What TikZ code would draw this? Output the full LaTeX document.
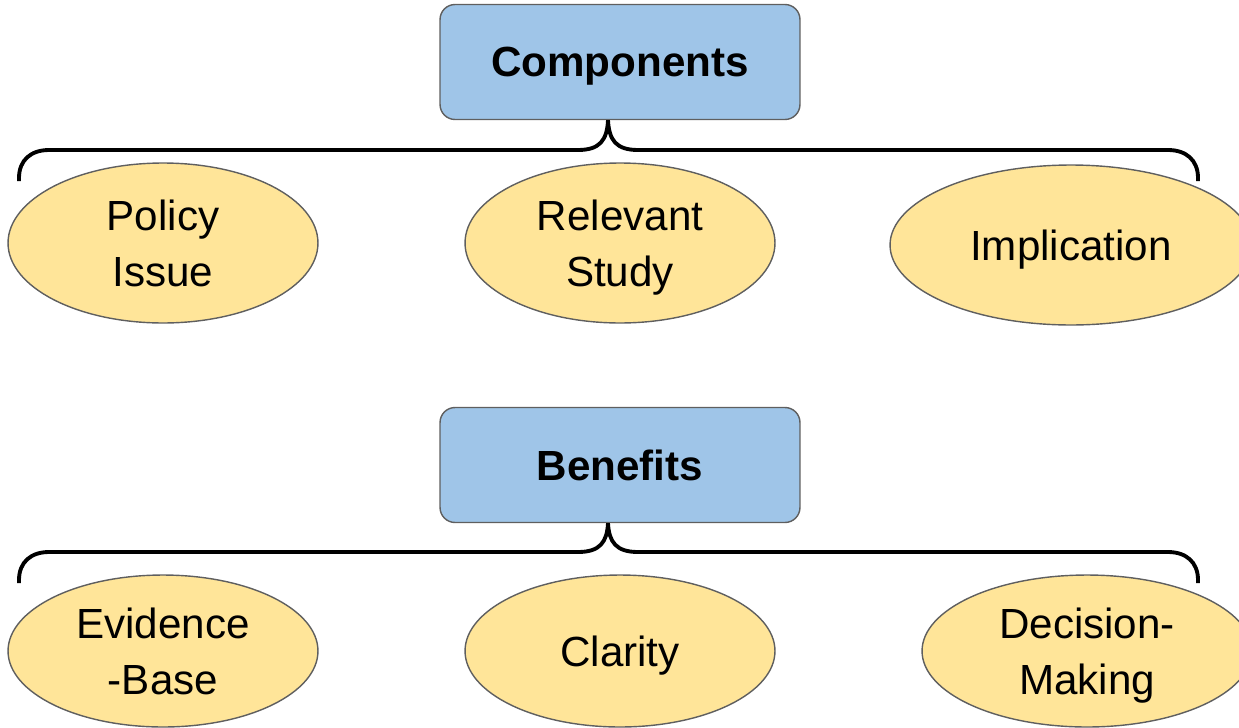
\documentclass[tikz,border=0pt]{standalone}
\usepackage{fontspec}
\setmainfont{Liberation Sans}
\usepackage{xcolor}
\usetikzlibrary{positioning,shapes.geometric,calc}
\definecolor{headblue}{HTML}{9FC5E8}
\definecolor{itemyellow}{HTML}{FFE599}
\definecolor{linegray}{HTML}{5F5F5F}

\begin{document}
\begin{tikzpicture}[x=0.02cm,y=-0.02cm,
  head/.style={draw=linegray,fill=headblue,rounded corners=0.3cm,line width=0.8pt,text depth=0pt,
    minimum width=7.2cm,minimum height=2.3cm,font=\fontsize{24}{32}\selectfont\bfseries},
  item/.style={ellipse,draw=linegray,fill=itemyellow,line width=0.8pt,inner sep=0pt,text depth=0pt,
    minimum width=6.2cm,minimum height=3.2cm,align=center,font=\fontsize{24}{32}\selectfont},
  brace/.style={line width=2.2pt}]
\useasboundingbox (0,0) rectangle (1239,727);
\clip (0,0) rectangle (1239,727);
% components
\node[head] (comp) at (620,62) {Components};
\node[item] (policy) at (163,243) {Policy\\Issue};
\node[item] (study) at (620,243) {Relevant\\Study};
\node[item,minimum width=7.24cm] (impl) at (1071,245) {Implication};
\coordinate (cl) at (19,181); \coordinate (cr) at (1198,181);
\draw[brace] (cl) -- (19,178) .. controls (19,160) and (31,150) .. (49,150) -- (578,150)
  .. controls (600,150) and (607,140) .. ([xshift=-0.24cm]comp.south)
  .. controls (609,140) and (616,150) .. (638,150) -- (1168,150)
  .. controls (1186,150) and (1198,160) .. (1198,178) -- (cr);
% benefits
\node[head] (ben) at (620,465) {Benefits};
\node[item,minimum height=3.04cm] (evid) at (163,651) {Evidence\\-Base};
\node[item,minimum height=3.04cm] (clar) at (620,651) {Clarity};
\node[item,minimum height=3.04cm,minimum width=6.6cm] (dec) at (1087,651) {Decision-\\Making};
\coordinate (bl) at (19,583); \coordinate (br) at (1198,583);
\draw[brace] (bl) -- (19,580) .. controls (19,562) and (31,552) .. (49,552) -- (578,552)
  .. controls (600,552) and (607,542) .. ([xshift=-0.24cm]ben.south)
  .. controls (609,542) and (616,552) .. (638,552) -- (1168,552)
  .. controls (1186,552) and (1198,562) .. (1198,580) -- (br);
\end{tikzpicture}
\end{document}
